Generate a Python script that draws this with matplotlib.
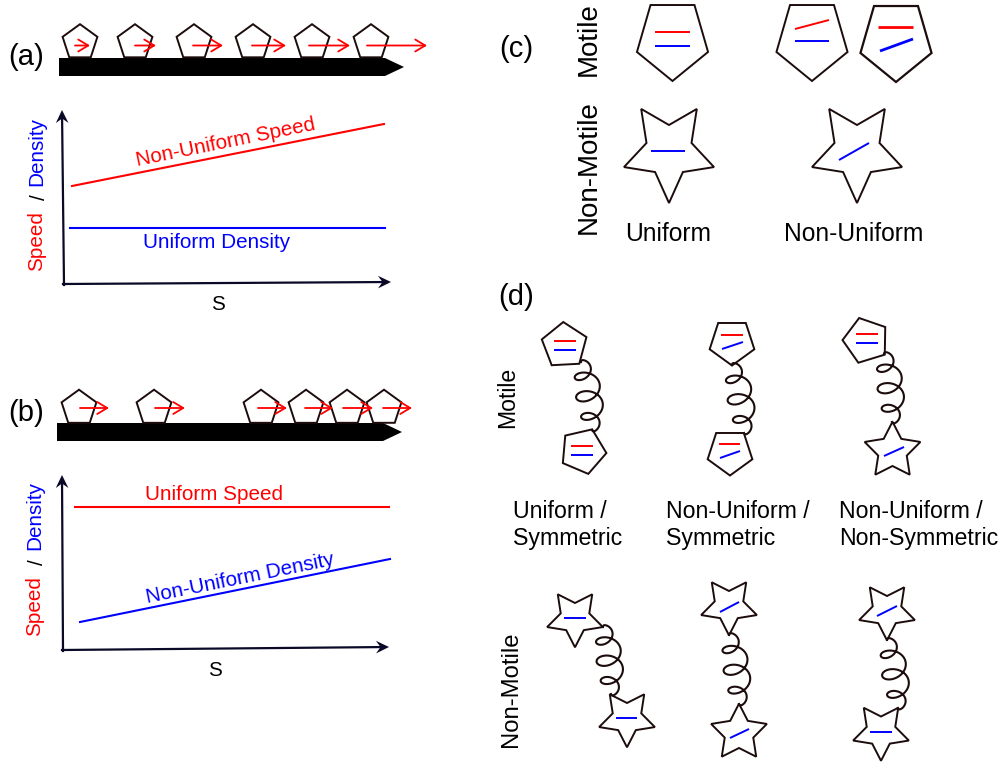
from __future__ import annotations

import matplotlib
matplotlib.use("Agg")
import matplotlib.pyplot as plt
import numpy as np
from matplotlib.patches import FancyArrowPatch, Polygon

plt.rcParams["font.family"] = ["Liberation Sans", "DejaVu Sans"]

RED = "#ff0000"
BLUE = "#0000ff"
NAVY = "#0a0a28"
OUTLINE = "#1c0c0c"

# Panel (a) and (b) cells on the track, with their speed arrows (pixel coordinates).
CELLS_A_X = [80, 135, 194, 253, 312, 371]
ARROW_A_START = [75, 135, 193, 252, 309, 367]
ARROW_A_END = [90, 156, 223, 286, 350, 427]
CELLS_B_X = [79, 154, 261, 306, 347, 384]
ARROW_B_START = [80, 155, 258, 305, 343, 383]
ARROW_B_END = [109, 185, 287, 333, 373, 412]

# Speed / density lines of the two small plots.
SPEED_A_S = [72, 384]
SPEED_A_V = [186, 124]
DENSITY_A_S = [70, 385]
DENSITY_A_V = [228, 228]
SPEED_B_S = [75, 389]
SPEED_B_V = [507, 507]
DENSITY_B_S = [80, 390]
DENSITY_B_V = [622, 559]

# Panel (d): (kind, cx, cy, rotation, red segment, blue segment)
D_SHAPES = [
    ("p", 564.5, 345.5, -3, (554, 341, 576, 341), (554, 350, 576, 350)),
    ("p", 583, 451, 23, (571, 446, 593, 446), (571, 455, 593, 455)),
    ("p", 732, 342, 180, (721, 335, 743, 335), (722, 349, 743, 342)),
    ("p", 730, 452, 180, (719, 444, 740, 444), (720, 458, 740, 451)),
    ("p", 866, 340.5, -17, (856, 334, 878, 334), (856, 343, 878, 343)),
    ("s", 892.5, 451, 0, None, (884, 456, 904, 447)),
    ("s", 575, 618, 180, None, (564, 617.5, 586, 617.5)),
    ("s", 627, 718, 180, None, (616, 718, 637, 718)),
    ("s", 729, 606, 180, None, (720, 612, 739, 602)),
    ("s", 739, 733, 0, None, (730, 738, 749, 729)),
    ("s", 887, 611, 180, None, (877, 616, 897, 606)),
    ("s", 881, 731.5, 180, None, (870, 731.5, 892, 731.5)),
]
D_SPRINGS = [
    ((581, 362), (592, 430)),
    ((732, 365), (744, 433)),
    ((884, 354), (892, 422)),
    ((603, 627), (611, 694)),
    ((729, 635), (739, 704)),
    ((887, 640), (898, 708)),
]


def pentagon(ax, cx, cy, r, rot=0, sx=1.0, lw=1.4):
    ang = np.radians(rot + 72 * np.arange(5))
    pts = np.column_stack([cx + sx * r * np.sin(ang), cy - r * np.cos(ang)])
    ax.add_patch(Polygon(pts, closed=True, fill=False, ec=OUTLINE, lw=lw, joinstyle="miter", zorder=3))


def star(ax, cx, cy, r_out, r_in, rot=0, sx=1.0, lw=1.4):
    ang = np.radians(rot + 36 * np.arange(10))
    rad = np.where(np.arange(10) % 2 == 0, r_out, r_in)
    pts = np.column_stack([cx + sx * rad * np.sin(ang), cy - rad * np.cos(ang)])
    ax.add_patch(Polygon(pts, closed=True, fill=False, ec=OUTLINE, lw=lw, joinstyle="miter", zorder=3))


def spring(ax, p0, p1):
    # flagellum drawn as a trochoid between the two heads
    p0, p1 = np.array(p0, float), np.array(p1, float)
    vec = p1 - p0
    length = np.hypot(*vec)
    along = vec / length
    side = np.array([along[1], -along[0]])
    t = np.linspace(0, 1, 500)
    th = 7 * np.pi * t
    env = np.sin(np.pi * t) ** 0.4
    u = length * t - 9.5 * env * np.cos(th)
    v = 13 * np.sin(th) * env + 2.5 * env
    ax.plot(p0[0] + u * along[0] + v * side[0], p0[1] + u * along[1] + v * side[1],
            color=OUTLINE, lw=1.5, zorder=2)


def seg(ax, s, color, lw=1.4):
    ax.plot([s[0], s[2]], [s[1], s[3]], color=color, lw=lw, solid_capstyle="butt", zorder=4)


def red_arrow(ax, x0, x1, y):
    ax.add_patch(FancyArrowPatch((x0, y), (x1, y), arrowstyle="->,head_length=0.72,head_width=0.43",
                                 mutation_scale=10, color=RED, lw=1.3, shrinkA=0, shrinkB=0, zorder=5))


def axis_arrow(ax, p0, p1):
    # line with a notched head, like the drawing tool's stealth arrow
    p0, p1 = np.array(p0, float), np.array(p1, float)
    d = (p1 - p0) / np.hypot(*(p1 - p0))
    n = np.array([-d[1], d[0]])
    ax.plot([p0[0], p1[0] - 6 * d[0]], [p0[1], p1[1] - 6 * d[1]], color=NAVY, lw=1.6, zorder=3)
    head = [p1, p1 - 13 * d + 6.3 * n, p1 - 8.5 * d, p1 - 13 * d - 6.3 * n]
    ax.add_patch(Polygon(head, closed=True, fc=NAVY, ec="none", zorder=3))


def track(ax, x0, x1, tip, y0, y1):
    pts = [(x0, y0), (x1, y0), (tip, (y0 + y1) / 2), (x1, y1), (x0, y1)]
    ax.add_patch(Polygon(pts, closed=True, fc="black", ec="none", zorder=1))


def ylabel_pair(ax, x, off):
    ax.text(x, 241 + off, "Speed", color=RED, rotation=90, ha="center", va="center", fontsize=14.9)
    ax.text(x + 3, 197 + off, "/", color="black", rotation=90, ha="center", va="center", fontsize=14.9)
    ax.text(x, 151 + off, "Density", color=BLUE, rotation=90, ha="center", va="center", fontsize=14.9)


def draw_left(ax):
    ax.text(26, 57, "(a)", ha="center", va="center", fontsize=21)
    track(ax, 59, 385, 404, 58, 76)
    for x, a0, a1 in zip(CELLS_A_X, ARROW_A_START, ARROW_A_END):
        pentagon(ax, x, 42.5, 18.3)
        red_arrow(ax, a0, a1, 45.5)

    axis_arrow(ax, (64, 285), (62, 110))
    axis_arrow(ax, (63, 284), (391, 282))
    ax.plot(SPEED_A_S, SPEED_A_V, color=RED, lw=1.5)
    ax.plot(DENSITY_A_S, DENSITY_A_V, color=BLUE, lw=1.5)
    ax.text(226, 142, "Non-Uniform Speed", color=RED, rotation=11.5, ha="center", va="center", fontsize=14.9)
    ax.text(217, 243, "Uniform Density", color=BLUE, ha="center", va="center", fontsize=14.9)
    ax.text(218, 305, "S", ha="center", va="center", fontsize=14.9)
    ylabel_pair(ax, 37, 0)

    ax.text(26, 413, "(b)", ha="center", va="center", fontsize=21)
    track(ax, 57, 383, 402, 423, 441)
    for x, a0, a1 in zip(CELLS_B_X, ARROW_B_START, ARROW_B_END):
        pentagon(ax, x, 408, 18.3)
        red_arrow(ax, a0, a1, 408)

    axis_arrow(ax, (63, 651), (62, 475))
    axis_arrow(ax, (62, 650), (389, 647))
    ax.plot(SPEED_B_S, SPEED_B_V, color=RED, lw=1.5)
    ax.plot(DENSITY_B_S, DENSITY_B_V, color=BLUE, lw=1.5)
    ax.text(214, 495, "Uniform Speed", color=RED, ha="center", va="center", fontsize=14.9)
    ax.text(240, 579, "Non-Uniform Density", color=BLUE, rotation=11.5, ha="center", va="center", fontsize=14.9)
    ax.text(215, 670, "S", ha="center", va="center", fontsize=14.9)
    ylabel_pair(ax, 35, 365)


def draw_c(ax):
    ax.text(516, 49, "(c)", ha="center", va="center", fontsize=21)
    ax.text(589, 39, "Motile", rotation=90, ha="center", va="center", fontsize=20)
    ax.text(589, 167, "Non-Motile", rotation=90, ha="center", va="center", fontsize=20)

    pentagon(ax, 672.5, 39, 42, rot=180, sx=0.89)
    seg(ax, (655, 31.5, 690, 31.5), RED)
    seg(ax, (655, 45.7, 690, 45.7), BLUE)
    pentagon(ax, 812, 39, 42, rot=180, sx=0.89)
    seg(ax, (795, 29, 829, 20), RED)
    seg(ax, (795, 40.5, 829, 40.5), BLUE)
    pentagon(ax, 896, 40, 42, rot=180, sx=0.89, lw=1.6)
    seg(ax, (878, 27, 913, 27), RED, lw=2.0)
    seg(ax, (880, 51, 913, 39), BLUE, lw=2.0)

    star(ax, 669, 151, 52, 26, rot=180, sx=0.91)
    seg(ax, (651, 151, 685, 151), BLUE)
    star(ax, 857, 151, 52, 26, rot=180, sx=0.91)
    seg(ax, (839, 160, 869, 143), BLUE)

    ax.text(668, 234, "Uniform", ha="center", va="center", fontsize=17.7)
    ax.text(854, 234, "Non-Uniform", ha="center", va="center", fontsize=17.7)


def draw_d(ax):
    ax.text(516, 297, "(d)", ha="center", va="center", fontsize=21)
    ax.text(508, 397, "Motile", rotation=90, ha="center", va="center", fontsize=16.6)
    ax.text(511, 689, "Non-Motile", rotation=90, ha="center", va="center", fontsize=17.2)

    for p0, p1 in D_SPRINGS:
        spring(ax, p0, p1)
    for kind, cx, cy, rot, red, blue in D_SHAPES:
        if kind == "p":
            pentagon(ax, cx, cy, 23.5, rot=rot)
        else:
            star(ax, cx, cy, 29.3, 15, rot=rot)
        if red is not None:
            seg(ax, red, RED)
        seg(ax, blue, BLUE)

    for x, top, bottom in [(513, "Uniform /", "Symmetric"), (666, "Non-Uniform /", "Symmetric"),
                           (839, "Non-Uniform /", "Non-Symmetric")]:
        ax.text(x, 512, top, ha="left", va="center", fontsize=16.7)
        ax.text(x, 539, bottom, ha="left", va="center", fontsize=16.7)


def main():
    fig = plt.figure(figsize=(10.03, 7.63), dpi=100)
    ax = fig.add_axes([0, 0, 1, 1])
    ax.set_xlim(0, 1003)
    ax.set_ylim(763, 0)
    ax.axis("off")
    draw_left(ax)
    draw_c(ax)
    draw_d(ax)
    fig.savefig("out.png", dpi=100)
    plt.close(fig)


if __name__ == "__main__":
    main()
